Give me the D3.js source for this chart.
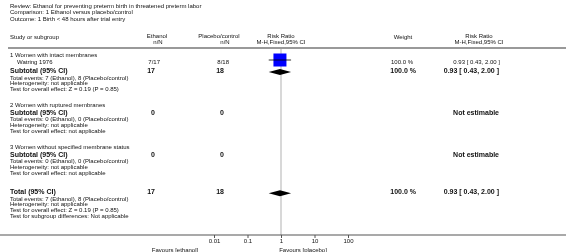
<!DOCTYPE html>
<html>
<head>
<meta charset="utf-8">
<script src="https://cdn.jsdelivr.net/npm/d3@7"></script>
<style>
body { margin: 0; background: #fff; }
svg { will-change: transform; }
svg text { font-family: "Liberation Sans", Arial, sans-serif; fill: #111; }
</style>
</head>
<body>
<div id="chart"></div>
<script>

// ---- data ----
var titleLines = [
  "Review:  Ethanol for preventing preterm birth in threatened preterm labor",
  "Comparison:  1 Ethanol versus placebo/control",
  "Outcome:  1 Birth < 48 hours after trial entry"
];

var subgroupNames = [
  "1 Women with intact membranes",
  "2 Women with ruptured membranes",
  "3 Women without specified membrane status"
];

// one study per subgroup at most
var studyNames   = ["Watring 1976"];
var studyGroup   = [0];
var studyEthanol = ["7/17"];
var studyPlacebo = ["8/18"];
var studyWeight  = ["100.0 %"];
var studyRR      = [0.93];
var studyLow     = [0.43];
var studyHigh    = [2.00];

var subEthanol = [17, 0, 0];
var subPlacebo = [18, 0, 0];
var subWeight  = ["100.0 %", null, null];
var subRR      = [0.93, null, null];
var subLow     = [0.43, null, null];
var subHigh    = [2.00, null, null];
var subNotes = [
  ["Total events: 7 (Ethanol), 8 (Placebo/control)", "Heterogeneity: not applicable", "Test for overall effect: Z = 0.19 (P = 0.85)"],
  ["Total events: 0 (Ethanol), 0 (Placebo/control)", "Heterogeneity: not applicable", "Test for overall effect: not applicable"],
  ["Total events: 0 (Ethanol), 0 (Placebo/control)", "Heterogeneity: not applicable", "Test for overall effect: not applicable"]
];

var totalEthanol = 17, totalPlacebo = 18, totalWeight = "100.0 %";
var totalRR = 0.93, totalLow = 0.43, totalHigh = 2.00;
var totalNotes = [
  "Total events: 7 (Ethanol), 8 (Placebo/control)",
  "Heterogeneity: not applicable",
  "Test for overall effect: Z = 0.19 (P = 0.85)",
  "Test for subgroup differences: Not applicable"
];

var tickValues = [0.01, 0.1, 1, 10, 100];
var favoursLabels = ["Favours [ethanol]", "Favours [placebo]"];

// ---- drawing ----
var width = 566, height = 252;
var small = 6, big = 7;

var svg = d3.select("#chart").append("svg")
    .attr("width", width)
    .attr("height", height);

// column anchors
var col = { study: 10, indent: 17, eth: 160, ethTot: 155, pla: 229, plaTot: 224,
            weight: 413, weightTot: 416, rr: 500, rrTot: 499 };

var x = d3.scaleLog()
    .domain([0.01, 100])
    .range([214, 348]);

var fmt = function(rr, lo, hi) {
  return rr.toFixed(2) + " [ " + lo.toFixed(2) + ", " + hi.toFixed(2) + " ]";
};

function text(x0, y0, str, size, bold, anchor) {
  return svg.append("text")
      .attr("x", x0)
      .attr("y", y0)
      .attr("font-size", size)
      .attr("font-weight", bold ? "bold" : "normal")
      .attr("text-anchor", anchor || "start")
      .text(str);
}

// title block
titleLines.forEach(function(t, i) { text(10, 8 + i * 6.3, t, small); });

// column headers
text(col.study, 39, "Study or subgroup", small);
text(157, 37.5, "Ethanol", small, false, "middle");
text(158, 43.5, "n/N", small, false, "middle");
text(219, 37.5, "Placebo/control", small, false, "middle");
text(225, 43.5, "n/N", small, false, "middle");
text(x(1), 37.5, "Risk Ratio", small, false, "middle");
text(x(1), 43.5, "M-H,Fixed,95% CI", small, false, "middle");
text(403, 39, "Weight", small, false, "middle");
text(479, 37.5, "Risk Ratio", small, false, "middle");
text(479, 43.5, "M-H,Fixed,95% CI", small, false, "middle");

svg.append("line")
    .attr("x1", 8).attr("x2", width)
    .attr("y1", 48).attr("y2", 48)
    .attr("stroke", "#999").attr("stroke-width", 2);

// vertical line of no effect
svg.append("line")
    .attr("x1", x(1)).attr("x2", x(1))
    .attr("y1", 49).attr("y2", 235)
    .attr("stroke", "#d8d8d8").attr("stroke-width", 2);

function diamond(cy, rr, lo, hi) {
  svg.append("path")
      .attr("d", "M" + x(lo) + "," + cy + "L" + x(rr) + "," + (cy - 3) +
                 "L" + x(hi) + "," + cy + "L" + x(rr) + "," + (cy + 3) + "Z")
      .attr("fill", "#000");
}

var y = 57;
subgroupNames.forEach(function(name, g) {
  text(col.study, y, name, small);

  studyNames.forEach(function(s, i) {
    if (studyGroup[i] !== g) return;
    y += 7;
    text(col.indent, y, s, small);
    text(col.eth, y, studyEthanol[i], small, false, "end");
    text(col.pla, y, studyPlacebo[i], small, false, "end");
    text(col.weight, y, studyWeight[i], small, false, "end");
    text(col.rr, y, fmt(studyRR[i], studyLow[i], studyHigh[i]), small, false, "end");

    var cy = y - 4;
    var s2 = 6.5;
    svg.append("rect")
        .attr("x", x(studyRR[i]) - s2).attr("y", cy - s2)
        .attr("width", s2 * 2).attr("height", s2 * 2)
        .attr("fill", "#0000ff");
    svg.append("line")
        .attr("x1", x(studyLow[i])).attr("x2", x(studyHigh[i]))
        .attr("y1", cy).attr("y2", cy)
        .attr("stroke", "#000").attr("stroke-width", 0.8);
    y += 1;
  });

  y += 8;
  text(col.study, y, "Subtotal (95% CI)", big, true);
  text(col.ethTot, y, subEthanol[g], big, true, "end");
  text(col.plaTot, y, subPlacebo[g], big, true, "end");
  if (subRR[g] !== null) {
    text(col.weightTot, y, subWeight[g], big, true, "end");
    text(col.rrTot, y, fmt(subRR[g], subLow[g], subHigh[g]), big, true, "end");
    diamond(y - 1, subRR[g], subLow[g], subHigh[g]);
  } else {
    text(col.rrTot, y, "Not estimable", big, true, "end");
  }

  y += 6.5;
  subNotes[g].forEach(function(n, k) {
    text(col.study, y + k * 5.7, n, small);
  });
  y += 2 * 5.7 + 16;
});

// overall total
y += 3.5;
text(col.study, y, "Total (95% CI)", big, true);
text(col.ethTot, y, totalEthanol, big, true, "end");
text(col.plaTot, y, totalPlacebo, big, true, "end");
text(col.weightTot, y, totalWeight, big, true, "end");
text(col.rrTot, y, fmt(totalRR, totalLow, totalHigh), big, true, "end");
diamond(y - 1, totalRR, totalLow, totalHigh);
y += 6.5;
totalNotes.forEach(function(n, k) {
  text(col.study, y + k * 5.7, n, small);
});

// axis
var axisY = 235;
svg.append("line")
    .attr("x1", 0).attr("x2", width)
    .attr("y1", axisY).attr("y2", axisY)
    .attr("stroke", "#555").attr("stroke-width", 1.2);

var xAxis = d3.axisBottom(x)
    .tickValues(tickValues)
    .tickSize(3)
    .tickFormat(function(d) { return d; });

var ax = svg.append("g")
    .attr("transform", "translate(0," + axisY + ")")
    .call(xAxis);
ax.select(".domain").remove();
ax.selectAll("line").attr("stroke", "#555");
ax.selectAll("text")
    .attr("font-size", small)
    .attr("font-family", "Liberation Sans, Arial, sans-serif")
    .attr("fill", "#111")
    .attr("dy", "0.9em")
    .attr("y", 3);

text(175, 251.5, favoursLabels[0], small, false, "middle");
text(303, 251.5, favoursLabels[1], small, false, "middle");

</script>
</body>
</html>
